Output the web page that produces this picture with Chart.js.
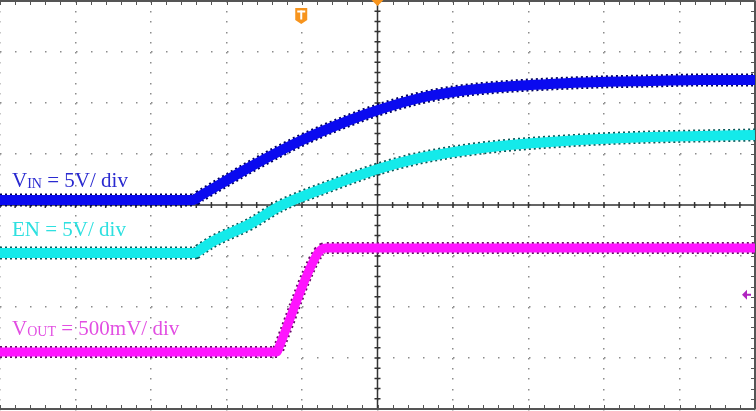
<!DOCTYPE html>
<html>
<head>
<meta charset="utf-8">
<script src="https://cdn.jsdelivr.net/npm/chart.js@4.4.1/dist/chart.umd.min.js"></script>
<style>
  html, body { margin: 0; padding: 0; background: #fff; }
  #wrap { position: relative; width: 756px; height: 411px; overflow: hidden; }
  canvas { position: absolute; left: 0; top: 0; }
  .lbl { position: absolute; left: 12px; font-family: "Liberation Serif", "Times New Roman", serif;
         font-size: 21px; line-height: 1; white-space: nowrap; }
  .lbl sub { font-size: 14px; vertical-align: -1px; line-height: 1; }
</style>
</head>
<body>
<div id="wrap">
  <canvas id="scope" width="756" height="411"></canvas>
  <div class="lbl" style="top:170px;color:#2a2ad0">V<sub>IN</sub> = 5V/ div</div>
  <div class="lbl" style="top:219px;color:#2ee0e0">EN = 5V/ div</div>
  <div class="lbl" style="top:318px;color:#e24ee2">V<sub>OUT</sub> = 500mV/ div</div>
</div>
<script>
// time axis in divisions (10 div across), amplitude in divisions (8 div tall, 0 = bottom)
const vinTime = [0, 2.556, 2.66, 3.311, 3.974, 4.636, 5.007, 5.563, 6.093, 6.623, 7.285, 7.947, 8.609, 9.272, 10];
const vinVal  = [4.098, 4.098, 4.187, 4.745, 5.255, 5.667, 5.863, 6.098, 6.235, 6.314, 6.373, 6.412, 6.431, 6.451, 6.451];

const enTime = [0, 2.583, 2.65, 2.808, 3.311, 3.709, 4.371, 5.007, 5.563, 6.093, 6.623, 7.285, 7.947, 8.609, 9.272, 10];
const enVal  = [3.059, 3.059, 3.123, 3.275, 3.627, 3.980, 4.373, 4.706, 4.922, 5.059, 5.157, 5.235, 5.294, 5.333, 5.353, 5.373];

const voutTime = [0, 3.669, 3.70, 4.212, 4.318, 10];
const voutVal  = [1.118, 1.118, 1.229, 3.059, 3.157, 3.157];

// trigger markers
const trigTime = 3.99;
const trigLevel = 2.24;

function pts(xs, ys) {
  return xs.map((x, i) => ({ x: x, y: ys[i] }));
}

// each trace: speckled dark edge (dashed, wide) under a bright core
function trace(xs, ys, color, width, order, dash) {
  return {
    data: pts(xs, ys),
    borderColor: color,
    borderWidth: width,
    borderDash: dash || [],
    pointRadius: 0,
    fill: false,
    cubicInterpolationMode: 'monotone',
    order: order,
    borderJoinStyle: 'round',
    borderCapStyle: 'butt'
  };
}

const gridPlugin = {
  id: 'scopeGrid',
  beforeDatasetsDraw(chart) {
    const ctx = chart.ctx;
    const sx = chart.scales.x, sy = chart.scales.y;
    const X = v => sx.getPixelForValue(v);
    const Y = v => sy.getPixelForValue(v);
    ctx.save();
    // dotted major grid
    ctx.fillStyle = '#8c8c8c';
    for (let i = 0; i <= 10; i++) {
      for (let j = 0; j <= 40; j++) ctx.fillRect(Math.round(X(i)) - 1, Math.round(Y(j / 5)), 1.5, 1.5);
    }
    for (let j = 0; j <= 8; j++) {
      for (let k = 0; k <= 50; k++) ctx.fillRect(Math.round(X(k / 5)), Math.round(Y(j)) - 1, 1.5, 1.5);
    }
    // centre axes with minor ticks
    ctx.strokeStyle = '#333';
    ctx.lineWidth = 1.5;
    ctx.beginPath();
    ctx.moveTo(X(5), Y(8)); ctx.lineTo(X(5), Y(0));
    ctx.moveTo(X(0), Y(4)); ctx.lineTo(X(10), Y(4));
    for (let j = 0; j <= 40; j++) { ctx.moveTo(X(5) - 3, Y(j / 5)); ctx.lineTo(X(5) + 3, Y(j / 5)); }
    for (let k = 0; k <= 50; k++) { ctx.moveTo(X(k / 5), Y(4) - 3); ctx.lineTo(X(k / 5), Y(4) + 3); }
    ctx.stroke();
    // frame with ticks
    ctx.strokeStyle = '#555';
    ctx.lineWidth = 2;
    ctx.beginPath();
    ctx.moveTo(X(0), Y(8)); ctx.lineTo(X(10), Y(8));
    ctx.moveTo(X(0), Y(0)); ctx.lineTo(X(10), Y(0));
    ctx.moveTo(X(10), Y(8)); ctx.lineTo(X(10), Y(0));
    ctx.stroke();
    ctx.lineWidth = 1;
    ctx.beginPath();
    for (let k = 0; k <= 50; k++) {
      const x = Math.round(X(k / 5)) + 0.5;
      ctx.moveTo(x, Y(8)); ctx.lineTo(x, Y(8) + 4);
      ctx.moveTo(x, Y(0)); ctx.lineTo(x, Y(0) - 4);
    }
    for (let j = 0; j <= 40; j++) {
      const y = Math.round(Y(j / 5)) + 0.5;
      ctx.moveTo(X(10), y); ctx.lineTo(X(10) - 4, y);
    }
    ctx.stroke();
    ctx.restore();
  },
  afterDatasetsDraw(chart) {
    const ctx = chart.ctx;
    const sx = chart.scales.x, sy = chart.scales.y;
    ctx.save();
    // trigger time "T" badge
    const tx = sx.getPixelForValue(trigTime);
    ctx.fillStyle = '#f7941d';
    ctx.beginPath();
    ctx.moveTo(tx - 6, 8); ctx.lineTo(tx + 6, 8); ctx.lineTo(tx + 6, 20);
    ctx.lineTo(tx, 24); ctx.lineTo(tx - 6, 20); ctx.closePath();
    ctx.fill();
    ctx.fillStyle = '#fff';
    ctx.fillRect(tx - 4, 10.5, 8, 2);
    ctx.fillRect(tx - 1, 10.5, 2, 9);
    // horizontal position marker at top centre
    const cx = sx.getPixelForValue(5);
    ctx.fillStyle = '#f7941d';
    ctx.beginPath();
    ctx.moveTo(cx - 6, 0); ctx.lineTo(cx + 6, 0); ctx.lineTo(cx, 6); ctx.closePath();
    ctx.fill();
    // trigger level arrow on the right
    const ly = sy.getPixelForValue(trigLevel);
    const rx = sx.getPixelForValue(10) - 4;
    ctx.fillStyle = '#b024c0';
    ctx.beginPath();
    ctx.moveTo(rx - 9, ly); ctx.lineTo(rx - 4, ly - 5); ctx.lineTo(rx - 4, ly + 5); ctx.closePath();
    ctx.fill();
    ctx.fillRect(rx - 5, ly - 1, 5, 2);
    ctx.restore();
  }
};

new Chart(document.getElementById('scope'), {
  type: 'line',
  data: {
    datasets: [
      trace(vinTime, vinVal, '#00005e', 13, 2, [2, 3]),
      trace(vinTime, vinVal, '#0a0af0', 10, 1),
      trace(enTime, enVal, '#0a5a5a', 13, 2, [2, 3]),
      trace(enTime, enVal, '#14eaea', 10, 1),
      trace(voutTime, voutVal, '#6a0a6a', 12, 2, [2, 3]),
      trace(voutTime, voutVal, '#ff14ff', 9, 1)
    ]
  },
  options: {
    responsive: false,
    animation: false,
    events: [],
    layout: { padding: { left: 0, right: 1, top: 1, bottom: 2 } },
    plugins: { legend: { display: false }, tooltip: { enabled: false } },
    scales: {
      x: { type: 'linear', min: 0, max: 10, display: false },
      y: { type: 'linear', min: 0, max: 8, display: false }
    }
  },
  plugins: [gridPlugin]
});
</script>
</body>
</html>
